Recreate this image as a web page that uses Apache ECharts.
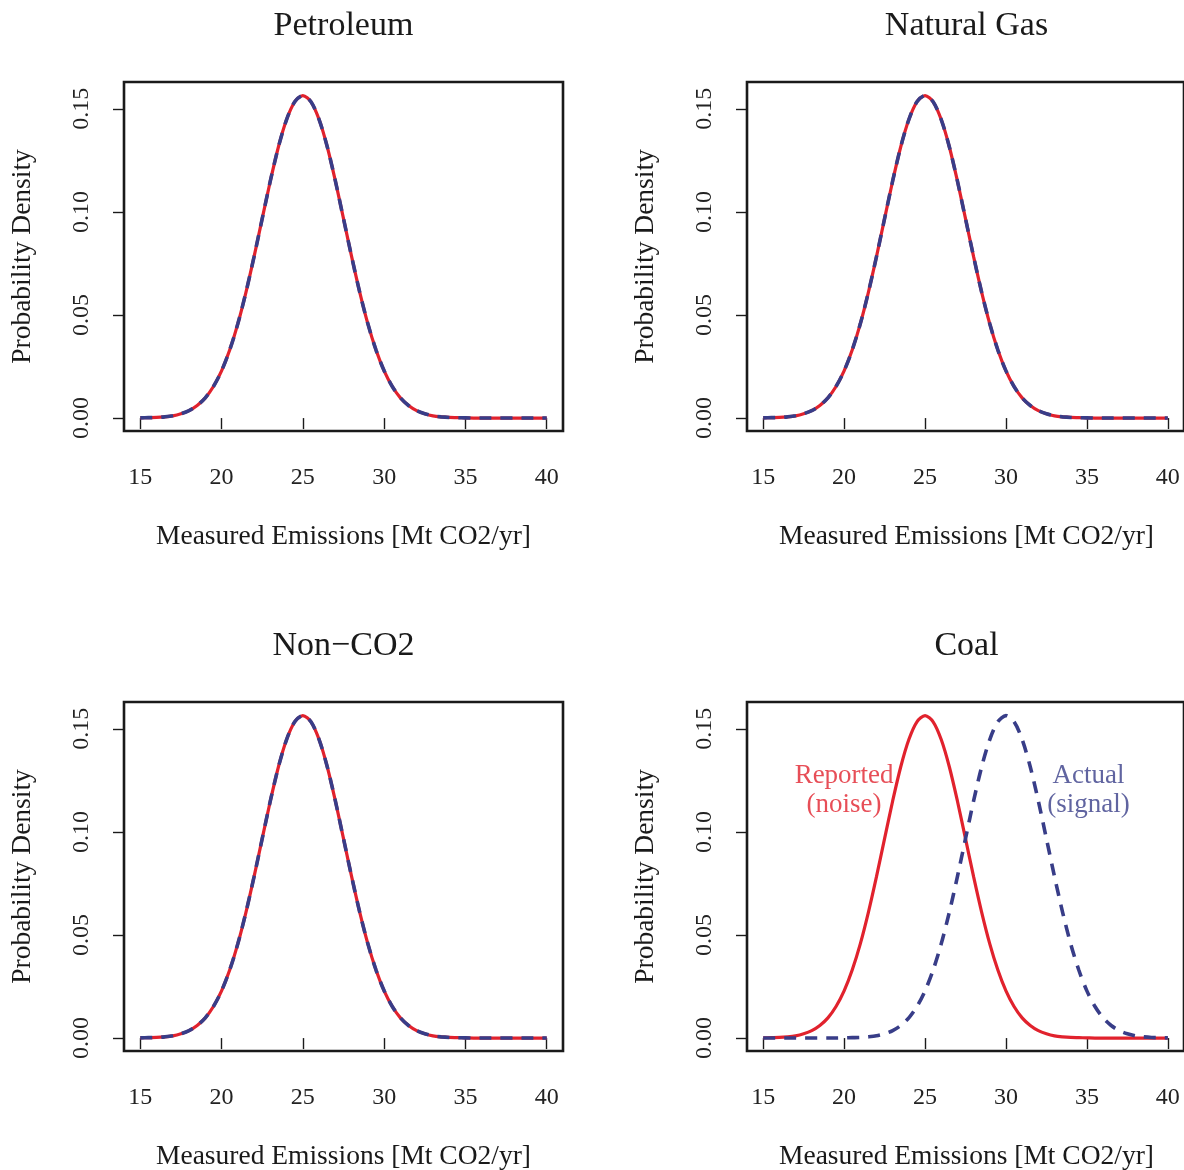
<!DOCTYPE html>
<html>
<head>
<meta charset="utf-8">
<script src="https://cdn.jsdelivr.net/npm/echarts@6/dist/echarts.min.js"></script>
<style>
  html, body { margin: 0; padding: 0; background: #ffffff; }
  #chart { width: 1184px; height: 1170px; }
</style>
</head>
<body>
<div id="chart"></div>
<script>
// Measured emissions grid [Mt CO2/yr]
const emissions = [
  15, 15.5, 16, 16.5, 17, 17.5, 18, 18.5, 19, 19.5,
  20, 20.5, 21, 21.5, 22, 22.5, 23, 23.5, 24, 24.5,
  25, 25.5, 26, 26.5, 27, 27.5, 28, 28.5, 29, 29.5,
  30, 30.5, 31, 31.5, 32, 32.5, 33, 33.5, 34, 34.5,
  35, 35.5, 36, 36.5, 37, 37.5, 38, 38.5, 39, 39.5, 40
];

// Reported emissions density (noise), centred near 25
const reportedDensity = [
  0.0001, 0.0002, 0.0003, 0.0006, 0.0011, 0.0021, 0.0036, 0.0061, 0.0098, 0.0153,
  0.0229, 0.0330, 0.0457, 0.0610, 0.0783, 0.0967, 0.1150, 0.1316, 0.1448, 0.1534,
  0.1564, 0.1534, 0.1448, 0.1316, 0.1150, 0.0967, 0.0783, 0.0610, 0.0457, 0.0330,
  0.0229, 0.0153, 0.0098, 0.0061, 0.0036, 0.0021, 0.0011, 0.0006, 0.0003, 0.0002,
  0.0001, 0, 0, 0, 0, 0, 0, 0, 0, 0, 0
];

// Actual coal emissions density (signal), centred near 30
const actualCoalDensity = [
  0, 0, 0, 0, 0, 0, 0, 0, 0, 0,
  0.0001, 0.0002, 0.0003, 0.0006, 0.0011, 0.0021, 0.0036, 0.0061, 0.0098, 0.0153,
  0.0229, 0.0330, 0.0457, 0.0610, 0.0783, 0.0967, 0.1150, 0.1316, 0.1448, 0.1534,
  0.1564, 0.1534, 0.1448, 0.1316, 0.1150, 0.0967, 0.0783, 0.0610, 0.0457, 0.0330,
  0.0229, 0.0153, 0.0098, 0.0061, 0.0036, 0.0021, 0.0011, 0.0006, 0.0003, 0.0002, 0.0001
];

const panelTitles = ['Petroleum', 'Natural Gas', 'Non\u2212CO2', 'Coal'];
const xTicks = [15, 20, 25, 30, 35, 40];
const yTicks = [0, 0.05, 0.10, 0.15];
const xAxisTitle = 'Measured Emissions [Mt CO2/yr]';
const yAxisTitle = 'Probability Density';

// Text annotations on the coal panel: [x, y, text]
const coalNotes = [
  [20, 0.12, 'Reported\n(noise)'],
  [35.1, 0.12, 'Actual\n(signal)']
];

const RED = '#e1222d';
const BLUE = '#383d88';
const INK = '#1a1a1a';
const FONT = 'Liberation Serif';

const boxes = [
  { left: 124, top: 82 },
  { left: 747, top: 82 },
  { left: 124, top: 702 },
  { left: 747, top: 702 }
];
const BOX_W = 439, BOX_H = 349;

const pairs = arr => emissions.map((x, i) => [x, arr[i]]);

const grids = [], xAxes = [], yAxes = [], series = [], graphics = [];

boxes.forEach((b, k) => {
  grids.push({
    left: b.left, top: b.top, width: BOX_W, height: BOX_H,
    show: true, borderColor: INK, borderWidth: 2.6, backgroundColor: 'transparent'
  });
  xAxes.push({
    gridIndex: k, type: 'value', min: 14, max: 41,
    axisLine: { show: false },
    splitLine: { show: false },
    axisTick: { show: true, inside: false, length: 11, customValues: xTicks,
                lineStyle: { color: INK, width: 1.4 } },
    axisLabel: { show: true, customValues: xTicks, margin: 35,
                 fontFamily: FONT, fontSize: 24, color: '#222' }
  });
  yAxes.push({
    gridIndex: k, type: 'value', min: -0.00627, max: 0.163,
    axisLine: { show: false },
    splitLine: { show: false },
    axisTick: { show: true, inside: false, length: 11, customValues: yTicks,
                lineStyle: { color: INK, width: 1.4 } },
    axisLabel: { show: true, customValues: yTicks, rotate: 90, margin: 30,
                 formatter: v => v.toFixed(2),
                 fontFamily: FONT, fontSize: 24, color: '#222' }
  });

  const coal = k === 3;
  series.push({
    type: 'line', xAxisIndex: k, yAxisIndex: k,
    data: pairs(reportedDensity),
    smooth: 0.3, showSymbol: false, silent: true,
    lineStyle: { color: RED, width: 3.2 }
  });
  series.push({
    type: 'line', xAxisIndex: k, yAxisIndex: k,
    data: pairs(coal ? actualCoalDensity : reportedDensity),
    smooth: 0.3, showSymbol: false, silent: true,
    lineStyle: { color: BLUE, width: 3.6, type: [12, 9] }
  });

  // panel title
  graphics.push({
    type: 'text', x: b.left + BOX_W / 2, y: b.top - 56,
    style: { text: panelTitles[k], fontFamily: FONT, fontSize: 34, fill: INK,
             textAlign: 'center', textVerticalAlign: 'middle' }
  });
  // x-axis title
  graphics.push({
    type: 'text', x: b.left + BOX_W / 2, y: b.top + BOX_H + 106,
    style: { text: xAxisTitle, fontFamily: FONT, fontSize: 27.5, fill: INK,
             textAlign: 'center', textVerticalAlign: 'middle' }
  });
  // y-axis title
  graphics.push({
    type: 'text', x: b.left - 101, y: b.top + BOX_H / 2, rotation: Math.PI / 2,
    style: { text: yAxisTitle, fontFamily: FONT, fontSize: 27.5, fill: INK,
             textAlign: 'center', textVerticalAlign: 'middle' }
  });
});

// annotation labels drawn at data coordinates in the coal panel
coalNotes.forEach((n, i) => {
  series.push({
    type: 'scatter', xAxisIndex: 3, yAxisIndex: 3, silent: true,
    symbolSize: 1, itemStyle: { color: 'rgba(0,0,0,0)' },
    data: [[n[0], n[1]]],
    label: { show: true, position: 'inside', formatter: n[2],
             fontFamily: FONT, fontSize: 27, lineHeight: 29,
             color: i === 0 ? RED : BLUE, align: 'center' },
    emphasis: { disabled: true }
  });
});

const chart = echarts.init(document.getElementById('chart'), null, { renderer: 'canvas' });
chart.setOption({
  animation: false,
  backgroundColor: '#ffffff',
  grid: grids,
  xAxis: xAxes,
  yAxis: yAxes,
  series: series,
  graphic: graphics
});
</script>
</body>
</html>
